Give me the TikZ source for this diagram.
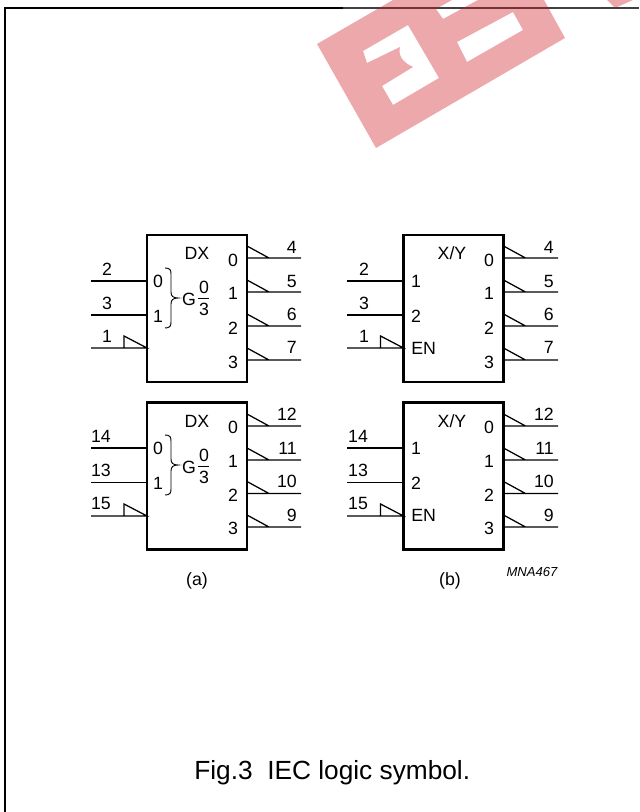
\documentclass[tikz,border=0pt]{standalone}
\usepackage{fontspec}
\setmainfont{Liberation Sans}
\definecolor{stamp}{RGB}{208,26,34}
\tikzset{
	chip/.style = {draw, line width=1.9pt, outer sep=0pt, minimum width=75pt, minimum height=110pt},
	pin/.style = {line width=0.95pt},
	txt/.style = {inner sep=0pt, font=\fontsize{13.3}{15}\selectfont},
	num/.style = {txt, anchor=east},
}
\begin{document}
\begin{tikzpicture}[x=0.75pt, y=-0.75pt]
	\useasboundingbox (0,0) rectangle (639,812);

	% page frame
	\draw[line width=1.5pt] (5,812) -- (5,8) -- (343,8);
	\draw[line width=0.8pt, black!75] (343,8) -- (639,8);

	% stamp
	\fill[stamp, opacity=0.38, even odd rule]
		(317,44) -- (393,0) -- (544,0) -- (565,38) -- (376,148) -- cycle
		(363,51) -- (408,25) -- (439,78) -- (393,105) -- (382,86) -- (413,67) .. controls (402,62) and (398,55) .. (400,47) -- (367,63) -- cycle
		(457,42) -- (513,12) -- (523,30) -- (467,62) -- cycle
		(436,9) -- (452,0) -- (478,0) -- (443,19) -- cycle
		(607,0) -- (615,8) -- (633,0) -- cycle;

	% top left
	\node[chip] (boxa) at (197,308.5) {};
	\coordinate (a2) at (91,281);
	\coordinate (a3) at (91,315);
	\coordinate (a1) at (91,348);
	\draw[pin] (a2) -- (a2 -| boxa.west);
	\draw[pin] (a3) -- (a3 -| boxa.west);
	\draw[pin] (a1) -- (a1 -| boxa.west) -- ++(-23,-12) -- ++(0,12);
	\node[txt] (la2) at (107,269) {2};
	\node[txt] (la3) at (107,303) {3};
	\node[txt] (la1) at (107,336) {1};
	\coordinate (a4) at (301,258);
	\coordinate (a5) at (301,292);
	\coordinate (a6) at (301,326);
	\coordinate (a7) at (301,360);
	\draw[pin] (boxa.east |- a4) -- (a4) (boxa.east |- a4) ++(0,-12) -- ++(22,12);
	\draw[pin] (boxa.east |- a5) -- (a5) (boxa.east |- a5) ++(0,-12) -- ++(22,12);
	\draw[pin] (boxa.east |- a6) -- (a6) (boxa.east |- a6) ++(0,-12) -- ++(22,12);
	\draw[pin] (boxa.east |- a7) -- (a7) (boxa.east |- a7) ++(0,-12) -- ++(22,12);
	\node[num] (la4) at (297,247) {4};
	\node[num] (la5) at (297,281) {5};
	\node[num] (la6) at (297,314) {6};
	\node[num] (la7) at (297,347) {7};
	\node[txt] (dxa) at (197,253) {DX};
	\node[txt] (ia0) at (158,281) {0};
	\node[txt] (ia1) at (158,316) {1};
	\node[txt] (oa0) at (233,260) {0};
	\node[txt] (oa1) at (233,293) {1};
	\node[txt] (oa2) at (233,328) {2};
	\node[txt] (oa3) at (233,362) {3};
	\draw[line width=0.7pt] (165,268) .. controls (170,268) and (171,270) .. (171,274) -- (171,292) .. controls (171,296) and (173,298) .. (178,298) .. controls (173,298) and (171,300) .. (171,304) -- (171,322) .. controls (171,326) and (170,328) .. (165,328);
	\node[txt] (ga) at (189,299) {G};
	\node[txt] (ga0) at (204,287) {0};
	\node[txt] (ga3) at (204,309) {3};
	\draw[line width=0.7pt] (198,298) -- (209,298);

	% bottom left
	\node[chip] (boxc) at (197,476) {};
	\coordinate (c14) at (91,448);
	\coordinate (c13) at (91,482.5);
	\coordinate (c15) at (91,516);
	\draw[pin] (c14) -- (c14 -| boxc.west);
	\draw[pin] (c13) -- (c13 -| boxc.west);
	\draw[pin] (c15) -- (c15 -| boxc.west) -- ++(-23,-12) -- ++(0,12);
	\node[txt] (lc14) at (101,436) {14};
	\node[txt] (lc13) at (101,470) {13};
	\node[txt] (lc15) at (101,503) {15};
	\coordinate (c12) at (301,426);
	\coordinate (c11) at (301,460);
	\coordinate (c10) at (301,493.5);
	\coordinate (c9) at (301,527);
	\draw[pin] (boxc.east |- c12) -- (c12) (boxc.east |- c12) ++(0,-12) -- ++(22,12);
	\draw[pin] (boxc.east |- c11) -- (c11) (boxc.east |- c11) ++(0,-12) -- ++(22,12);
	\draw[pin] (boxc.east |- c10) -- (c10) (boxc.east |- c10) ++(0,-12) -- ++(22,12);
	\draw[pin] (boxc.east |- c9) -- (c9) (boxc.east |- c9) ++(0,-12) -- ++(22,12);
	\node[num] (lc12) at (297,414) {12};
	\node[num] (lc11) at (297,448) {11};
	\node[num] (lc10) at (297,481) {10};
	\node[num] (lc9) at (297,515) {9};
	\node[txt] (dxc) at (197,421) {DX};
	\node[txt] (ic0) at (158,448) {0};
	\node[txt] (ic1) at (158,483) {1};
	\node[txt] (oc0) at (233,427) {0};
	\node[txt] (oc1) at (233,461) {1};
	\node[txt] (oc2) at (233,495) {2};
	\node[txt] (oc3) at (233,528) {3};
	\draw[line width=0.7pt] (165,435) .. controls (170,435) and (171,437) .. (171,441) -- (171,459) .. controls (171,463) and (173,465) .. (178,465) .. controls (173,465) and (171,467) .. (171,471) -- (171,489) .. controls (171,493) and (170,495) .. (165,495);
	\node[txt] (gc) at (189,467) {G};
	\node[txt] (gc0) at (204,455) {0};
	\node[txt] (gc3) at (204,477) {3};
	\draw[line width=0.7pt] (198,466) -- (209,466);

	% top right
	\node[chip] (boxb) at (453.5,308.5) {};
	\coordinate (b2) at (347,281);
	\coordinate (b3) at (347,315);
	\coordinate (b1) at (347,348);
	\draw[pin] (b2) -- (b2 -| boxb.west);
	\draw[pin] (b3) -- (b3 -| boxb.west);
	\draw[pin] (b1) -- (b1 -| boxb.west) -- ++(-23,-12) -- ++(0,12);
	\node[txt] (lb2) at (364,269) {2};
	\node[txt] (lb3) at (364,303) {3};
	\node[txt] (lb1) at (364,336) {1};
	\coordinate (b4) at (558,258);
	\coordinate (b5) at (558,292);
	\coordinate (b6) at (558,326);
	\coordinate (b7) at (558,360);
	\draw[pin] (boxb.east |- b4) -- (b4) (boxb.east |- b4) ++(0,-12) -- ++(22,12);
	\draw[pin] (boxb.east |- b5) -- (b5) (boxb.east |- b5) ++(0,-12) -- ++(22,12);
	\draw[pin] (boxb.east |- b6) -- (b6) (boxb.east |- b6) ++(0,-12) -- ++(22,12);
	\draw[pin] (boxb.east |- b7) -- (b7) (boxb.east |- b7) ++(0,-12) -- ++(22,12);
	\node[num] (lb4) at (554,247) {4};
	\node[num] (lb5) at (554,281) {5};
	\node[num] (lb6) at (554,314) {6};
	\node[num] (lb7) at (554,347) {7};
	\node[txt] (xyb) at (452,253) {X/Y};
	\node[txt] (ib1) at (416,281) {1};
	\node[txt] (ib2) at (416,316) {2};
	\node[txt, anchor=west] (ibe) at (411,348) {EN};
	\node[txt] (ob0) at (489,260) {0};
	\node[txt] (ob1) at (489,293) {1};
	\node[txt] (ob2) at (489,328) {2};
	\node[txt] (ob3) at (489,362) {3};

	% bottom right
	\node[chip] (boxd) at (453.5,476) {};
	\coordinate (d14) at (347,448);
	\coordinate (d13) at (347,482.5);
	\coordinate (d15) at (347,516);
	\draw[pin] (d14) -- (d14 -| boxd.west);
	\draw[pin] (d13) -- (d13 -| boxd.west);
	\draw[pin] (d15) -- (d15 -| boxd.west) -- ++(-23,-12) -- ++(0,12);
	\node[txt] (ld14) at (358,436) {14};
	\node[txt] (ld13) at (358,470) {13};
	\node[txt] (ld15) at (358,503) {15};
	\coordinate (d12) at (558,426);
	\coordinate (d11) at (558,460);
	\coordinate (d10) at (558,493.5);
	\coordinate (d9) at (558,527);
	\draw[pin] (boxd.east |- d12) -- (d12) (boxd.east |- d12) ++(0,-12) -- ++(22,12);
	\draw[pin] (boxd.east |- d11) -- (d11) (boxd.east |- d11) ++(0,-12) -- ++(22,12);
	\draw[pin] (boxd.east |- d10) -- (d10) (boxd.east |- d10) ++(0,-12) -- ++(22,12);
	\draw[pin] (boxd.east |- d9) -- (d9) (boxd.east |- d9) ++(0,-12) -- ++(22,12);
	\node[num] (ld12) at (554,414) {12};
	\node[num] (ld11) at (554,448) {11};
	\node[num] (ld10) at (554,481) {10};
	\node[num] (ld9) at (554,515) {9};
	\node[txt] (xyd) at (452,421) {X/Y};
	\node[txt] (id1) at (416,448) {1};
	\node[txt] (id2) at (416,483) {2};
	\node[txt, anchor=west] (ide) at (411,515) {EN};
	\node[txt] (od0) at (489,427) {0};
	\node[txt] (od1) at (489,461) {1};
	\node[txt] (od2) at (489,495) {2};
	\node[txt] (od3) at (489,528) {3};

	% captions
	\node[txt] (capa) at (197,581) {(a)};
	\node[txt] (capb) at (450,581) {(b)};
	\node[inner sep=0pt, font=\fontsize{9.8}{11}\selectfont\itshape] (code) at (532,572) {MNA467};
	\node[inner sep=0pt, anchor=west, font=\fontsize{19.7}{22}\selectfont] (title) at (194,773) {Fig.3\hspace{0.278em}\hspace{0.278em}IEC logic symbol.};
\end{tikzpicture}
\end{document}
